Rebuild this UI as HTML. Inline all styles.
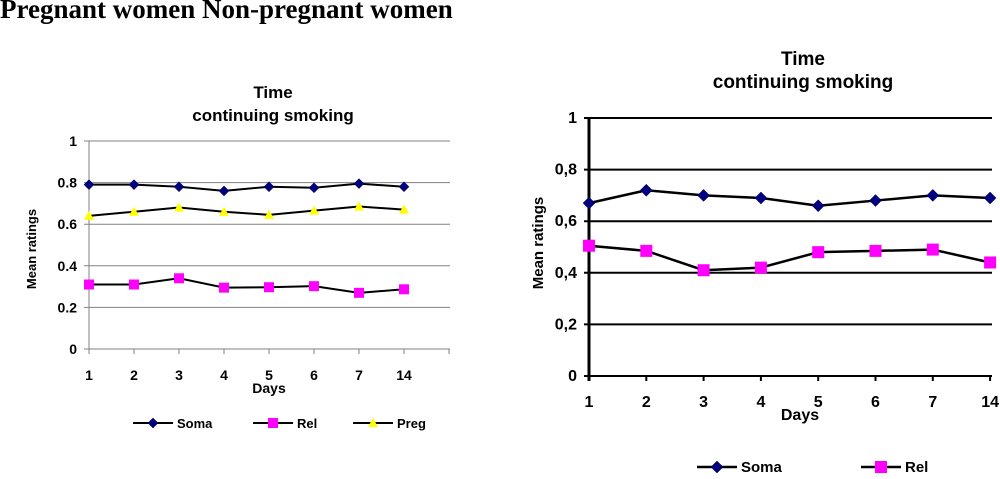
<!DOCTYPE html>
<html><head><meta charset="utf-8"><style>
body{margin:0;background:#fff;width:1000px;height:474px;overflow:hidden}
svg text{font-family:"Liberation Sans",Arial,sans-serif;font-weight:bold;fill:#000}
</style></head><body>
<svg id="svg" width="1000" height="474" xmlns="http://www.w3.org/2000/svg">
<text x="0" y="18" style="font-family:'Liberation Serif',serif;font-size:27px">Pregnant women Non-pregnant women</text>
</svg>
<script>
const categories=["1","2","3","4","5","6","7","14"];
const yTicks=[0,0.2,0.4,0.6,0.8,1];
const yTickLabelsL=["0","0.2","0.4","0.6","0.8","1"];
const yTickLabelsR=["0","0,2","0,4","0,6","0,8","1"];
const somaL=[0.79,0.79,0.78,0.76,0.78,0.775,0.795,0.78];
const pregL=[0.64,0.66,0.68,0.66,0.645,0.665,0.685,0.67];
const relL=[0.31,0.31,0.34,0.295,0.297,0.302,0.27,0.287];
const somaR=[0.67,0.72,0.70,0.69,0.66,0.68,0.70,0.69];
const relR=[0.505,0.485,0.41,0.42,0.48,0.485,0.49,0.44];

const svg=document.getElementById('svg');
const NS="http://www.w3.org/2000/svg";
function el(tag,attrs,parent){const e=document.createElementNS(NS,tag);for(const k in attrs)e.setAttribute(k,attrs[k]);(parent||svg).appendChild(e);return e;}
function txt(x,y,s,size,anchor,parent){const t=el('text',{x:x,y:y,'font-size':size,'text-anchor':anchor||'middle'},parent);t.textContent=s;return t;}
function marker(type,x,y,g,sz){
  let m;
  if(type==='diamond'){m=el('polygon',{points:`${x},${y-sz} ${x+sz},${y} ${x},${y+sz} ${x-sz},${y}`,fill:'#000080',stroke:'#000040','stroke-width':0.5},g);}
  else if(type==='square'){m=el('rect',{x:x-sz,y:y-sz,width:2*sz,height:2*sz,fill:'#ff00ff'},g);}
  else {m=el('polygon',{points:`${x},${y-sz} ${x+sz},${y+sz*0.8} ${x-sz},${y+sz*0.8}`,fill:'#ffff00'},g);}
  return m;
}
function chart(o){
  const g=el('g',{});
  
  
  const xs=i=>o.x0+i*o.step, ys=v=>o.y0-(o.y0-o.y1)*v;
  yTicks.forEach((v,i)=>{
    const l=el('line',{x1:o.x0-5,x2:o.xEnd,y1:ys(v),y2:ys(v),stroke:o.grid,'stroke-width':o.gw},g);
    
    
    const t=txt(o.x0-12,ys(v)+5,o.yl[i],o.fs,'end',g);
    
    
  });
  el('line',{x1:o.x0,x2:o.x0,y1:o.y1,y2:o.y0+5,stroke:o.grid,'stroke-width':o.aw},g);
  const nt=o.extraTick?categories.length+1:categories.length;
  for(let i=0;i<nt;i++)el('line',{x1:xs(i),x2:xs(i),y1:o.y0,y2:o.y0+5,stroke:o.grid,'stroke-width':o.gw},g);
  categories.forEach((c,i)=>{const t=txt(xs(i),o.y0+31,c,o.fs,'middle',g);
    
    });
  const xt=txt(o.daysX,o.y0+44,'Days',o.fs,'middle',g);
  
  
  const yt=txt(0,0,'Mean ratings',o.fs-1,'middle',g);
  yt.setAttribute('transform',`translate(${o.ytX},${o.ytY}) rotate(-90)`);
  
  
  const t1=txt(o.tx,o.t1y,'Time',o.tfs,'middle',g);
  
  
  const t2=txt(o.tx,o.t2y,'continuing smoking',o.tfs,'middle',g);
  
  
  o.series.forEach(s=>{
    const p=el('polyline',{points:s.data.map((v,i)=>xs(i)+','+ys(v)).join(' '),fill:'none',stroke:'#000','stroke-width':o.lw},g);
    
    
    s.data.forEach((v,i)=>{const m=marker(s.type,xs(i),ys(v),g,o.ms);
      
      });
    const lg=el('line',{x1:s.lx-20,x2:s.lx+20,y1:o.ly,y2:o.ly,stroke:'#000','stroke-width':o.lw},g);
    
    
    const lm=marker(s.type,s.lx,o.ly,g,o.ms);
    
    
    const lt=txt(s.lx+24,o.ly+5,s.label,o.fs-1,'start',g);
    
    
  });
}
chart({name:'left-chart',x0:89,step:45,xEnd:450,y0:349,y1:141,grid:'#808080',gw:1,aw:1,lw:2,extraTick:true,
  fs:14,yl:yTickLabelsL,daysX:269,ytX:36,ytY:249,tx:273,t1y:98,t2y:121,tfs:17,ms:5,ly:423,
  series:[{label:'Soma',data:somaL,type:'diamond',lx:153},{label:'Rel',data:relL,type:'square',lx:273},{label:'Preg',data:pregL,type:'triangle',lx:373}]});
chart({name:'right-chart',x0:589,step:57.3,xEnd:992,y0:376,y1:118,grid:'#000',gw:2,aw:3,lw:2.5,extraTick:false,
  fs:16,yl:yTickLabelsR,daysX:800,ytX:543,ytY:243,tx:803,t1y:65,t2y:88,tfs:19,ms:6,ly:467,
  series:[{label:'Soma',data:somaR,type:'diamond',lx:717},{label:'Rel',data:relR,type:'square',lx:881}]});
</script>
</body></html>
